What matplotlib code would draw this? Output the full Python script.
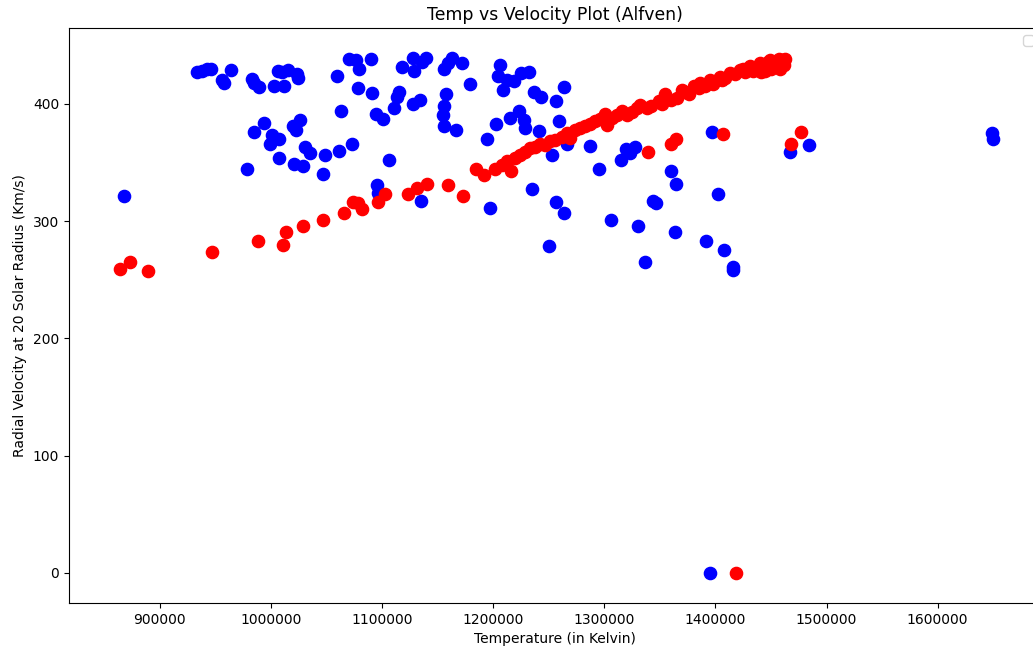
import matplotlib
matplotlib.use("Agg")
import matplotlib.pyplot as plt

# Alfven point: temperature (K) vs radial velocity at 20 Rsun (km/s)
temp_blue = [868000, 933500, 938000, 943000, 946400, 964400, 956000, 958300, 983000, 985300,
             989300, 1003300, 1011800, 1006900, 1010000, 1015900, 1024000, 1024700, 994000, 985000,
             1001000, 1007600, 999500, 1026500, 1019900, 1022900, 1031000, 1035500, 1007600, 978800,
             1020800, 1029200, 1047400, 1049200, 1061300, 1073000, 1063100, 1059500, 1070800, 1076600,
             1079600, 1090400, 1078900, 1091300, 1094900, 1101400, 1106600, 1095500, 1096400, 1111300,
             1114000, 1115800, 1118000, 1128400, 1129000, 1136500, 1139900, 1128400, 1134500, 1135400,
             1156300, 1159900, 1163000, 1172300, 1179500, 1157900, 1156300, 1155400, 1156300, 1166600,
             1194500, 1202900, 1197500, 1205800, 1204400, 1212500, 1208900, 1219100, 1225100, 1231900,
             1214800, 1222900, 1227400, 1229000, 1236400, 1243400, 1263400, 1256900, 1259600, 1240900,
             1266500, 1253000, 1235000, 1256900, 1263400, 1250600, 1287500, 1294900, 1315400, 1319900,
             1328000, 1323500, 1306400, 1330000, 1337000, 1343900, 1346600, 1360400, 1364900, 1364000,
             1391600, 1408000, 1415900, 1416000, 1397000, 1402400, 1467500, 1483900, 1649000, 1649500,
             1395000]
vel_blue = [321, 427, 428, 430, 430, 429, 420, 418, 421, 418,
            414, 415, 415, 428, 427, 429, 425, 422, 384, 376,
            373, 370, 366, 386, 381, 378, 363, 358, 354, 344,
            349, 347, 340, 356, 360, 366, 394, 424, 438, 437,
            430, 438, 413, 409, 391, 387, 352, 331, 324, 396,
            406, 410, 431, 439, 428, 436, 439, 400, 403, 317,
            430, 435, 439, 435, 417, 408, 398, 390, 381, 378,
            370, 383, 311, 433, 424, 420, 412, 419, 426, 427,
            388, 394, 386, 379, 410, 406, 414, 402, 385, 377,
            366, 356, 327, 316, 307, 279, 364, 344, 352, 361,
            363, 358, 301, 296, 265, 317, 315, 343, 332, 291,
            283, 275, 258, 261, 376, 323, 359, 365, 375, 370,
            0]

temp_red = [864500, 873500, 889400, 947500, 988900, 1011400, 1013600, 1029200, 1047400, 1066300,
            1074400, 1078900, 1082000, 1096900, 1103000, 1123400, 1131500, 1140500, 1159900, 1173400,
            1184600, 1191800, 1202000, 1208000, 1212500, 1216100, 1220000, 1224500, 1229000, 1233500,
            1238000, 1242500, 1247000, 1251500, 1256000, 1262000, 1266500, 1269500, 1274000, 1278500,
            1283000, 1287500, 1292000, 1296500, 1301000, 1302500, 1307000, 1311500, 1316000, 1320500,
            1325000, 1329500, 1332500, 1338500, 1349000, 1352000, 1355000, 1365500, 1370000, 1376000,
            1380400, 1386500, 1391000, 1395500, 1398000, 1400000, 1404500, 1406000, 1409000, 1413500,
            1418000, 1422500, 1425000, 1427000, 1431500, 1434000, 1436000, 1440500, 1445000, 1447000,
            1449500, 1452400, 1455000, 1457000, 1458500, 1460000, 1463000,
            1441000, 1445000, 1450000, 1462000, 1385000, 1373000, 1360000, 1342000,
            1339000, 1360000, 1364200, 1406900, 1468400, 1477400, 1418700]
vel_red = [259, 265, 257, 274, 283, 280, 291, 296, 301, 307,
           316, 315, 310, 316, 323, 323, 328, 332, 331, 321,
           344, 339, 344, 348, 351, 343, 354, 356, 359, 362,
           363, 366, 365, 368, 369, 372, 375, 371, 378, 379,
           381, 383, 385, 387, 391, 382, 388, 390, 394, 390,
           393, 396, 399, 396, 402, 400, 408, 405, 412, 408,
           415, 418, 415, 420, 417, 419, 423, 420, 422, 426,
           425, 429, 430, 427, 432, 428, 430, 435, 433, 436,
           437, 435, 436, 438, 430, 437, 438,
           427, 428, 430, 433, 413, 410, 403, 398,
           359, 366, 370, 374, 366, 376, 0]

fig = plt.figure(figsize=(10.33, 6.49), dpi=100)
ax = fig.add_axes([0.0668, 0.0709, 0.941, 0.886])

ax.plot(temp_blue, vel_blue, "bo", markersize=8.8)
ax.plot(temp_red, vel_red, "ro", markersize=8.8)

ax.set_xlim(818500, 1693000)
ax.set_ylim(-25.6, 464.6)
ax.ticklabel_format(style="plain", useOffset=False)

ax.set_title("Temp vs Velocity Plot (Alfven)", fontsize=12.4)
ax.set_xlabel("Temperature (in Kelvin)")
ax.set_ylabel("Radial Velocity at 20 Solar Radius (Km/s)")
ax.legend(loc="upper right")

fig.savefig("out.png", dpi=100)
